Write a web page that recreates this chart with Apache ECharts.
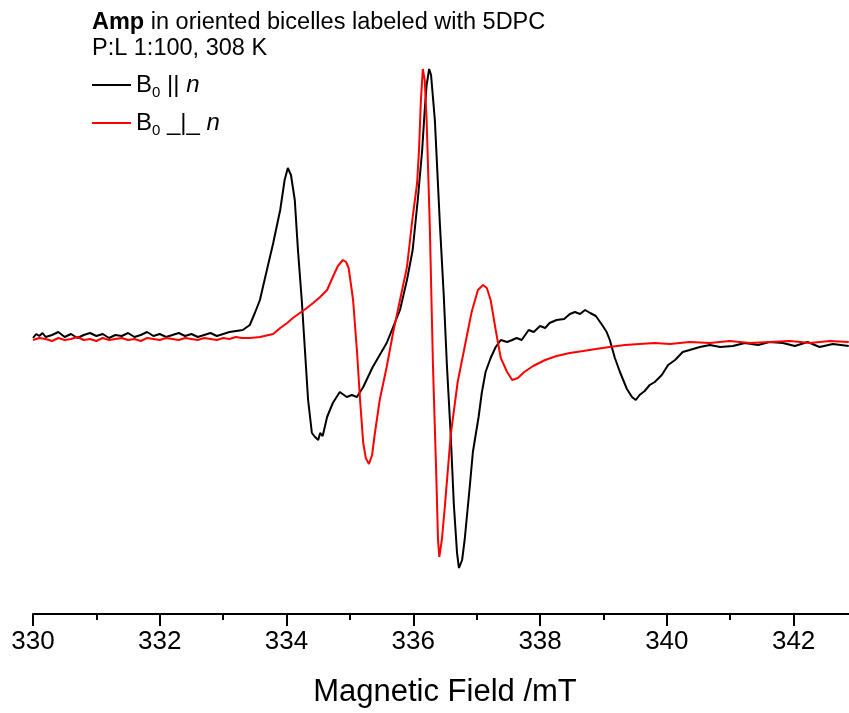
<!DOCTYPE html>
<html>
<head>
<meta charset="utf-8">
<script src="https://cdn.jsdelivr.net/npm/echarts@6/dist/echarts.min.js"></script>
<style>
html,body{margin:0;padding:0;background:#fff;}
#chart{width:849px;height:713px;}
</style>
</head>
<body>
<div id="chart"></div>
<script>
// Magnetic field (mT) and signal (arbitrary units) for B0 || n
const fieldPar = [330.00,330.05,330.10,330.15,330.20,330.30,330.40,330.50,330.60,330.70,330.80,330.90,331.00,331.10,331.20,331.30,331.40,331.50,331.60,331.70,331.80,331.90,332.00,332.10,332.20,332.30,332.40,332.50,332.60,332.70,332.80,332.90,333.00,333.10,
333.31,333.42,333.50,333.58,333.69,333.79,333.90,333.97,334.02,334.07,334.13,334.18,334.24,334.29,334.34,334.40,334.45,334.50,334.53,334.57,334.64,334.73,334.84,334.95,335.03,335.11,335.21,335.36,335.58,335.79,335.90,335.99,336.07,336.14,336.18,336.21,336.25,336.28,336.34,336.42,336.48,336.53,336.59,336.64,336.69,336.72,336.77,336.81,336.89,336.94,337.03,337.08,337.14,337.22,337.30,337.38,337.48,337.56,337.63,337.71,337.82,337.90,338.00,338.08,338.15,338.26,338.38,338.47,338.55,338.63,338.71,338.79,338.88,338.99,339.05,339.10,339.18,339.26,339.37,339.45,339.51,339.57,339.65,339.73,339.81,339.92,340.02,340.13,340.25,340.36,340.52,340.68,340.84,341.04,341.23,341.44,341.62,341.83,342.02,342.22,342.41,342.62,342.87];
const signalPar = [2,6,4,7,3,5,8,3,6,2,5,7,4,6,2,5,4,7,3,5,8,4,6,3,5,7,4,6,3,5,7,4,6,8,
10,15,27,40,70,97,130,160,172,165,140,90,40,-10,-60,-93,-97,-100,-93,-96,-77,-63,-52,-57,-55,-57,-47,-27,-3,30,60,90,140,190,230,255,271,265,220,115,45,-25,-95,-165,-213,-228,-220,-200,-147,-112,-77,-53,-32,-18,-7,0,-2,0,2,0,10,8,14,12,17,20,21,26,28,26,30,27,24,14,8,0,-18,-32,-49,-57,-60,-55,-51,-45,-42,-35,-25,-20,-12,-10,-7,-5,-7,-6,-3,-5,-2,-3,-6,-2,-7,-4,-6];

// Magnetic field (mT) and signal (arbitrary units) for B0 _|_ n
const fieldPerp = [330.0,330.1,330.2,330.3,330.4,330.5,330.6,330.7,330.8,330.9,331.0,331.1,331.2,331.3,331.4,331.5,331.6,331.7,331.8,331.9,332.0,332.1,332.2,332.3,332.4,332.5,332.6,332.7,332.8,332.9,333.0,333.1,333.2,333.3,
333.42,333.58,333.79,333.90,334.01,334.10,334.21,334.32,334.42,334.53,334.64,334.73,334.81,334.89,334.94,334.98,335.05,335.11,335.16,335.21,335.25,335.30,335.35,335.39,335.47,335.58,335.68,335.79,335.90,335.99,336.06,336.09,336.12,336.15,336.18,336.21,336.26,336.31,336.36,336.39,336.41,336.45,336.50,336.59,336.70,336.81,336.92,337.02,337.10,337.16,337.22,337.30,337.38,337.48,337.56,337.65,337.75,337.89,338.08,338.26,338.47,338.68,338.88,339.10,339.34,339.57,339.81,340.05,340.36,340.68,340.99,341.31,341.62,341.94,342.26,342.57,342.87];
const signalPerp = [0,2,1,-1,2,0,1,3,0,1,-1,2,0,1,2,0,1,-1,2,1,0,2,1,0,2,1,0,2,1,0,2,1,3,2,
2,3,6,12,17,22,27,32,37,43,50,63,74,80,78,72,40,-10,-60,-103,-118,-124,-115,-95,-60,-27,7,40,73,123,157,190,240,271,260,220,115,-25,-130,-200,-217,-200,-165,-95,-42,-7,28,50,55,52,40,10,-18,-32,-40,-38,-32,-26,-20,-16,-13,-11,-9,-7,-5,-4,-3,-4,-2,-3,-1,-3,-2,-1,-3,-1,-2];

const seriesNames = ['B0 || n', 'B0 _|_ n'];
const legendLabels = {
  'B0 || n': '{b|B}{s|0}{b| || }{i|n}',
  'B0 _|_ n': '{b|B}{s|0}{b| _|_ }{i|n}'
};
const titleText = '{bold|Amp}{reg| in oriented bicelles labeled with 5DPC}\n{reg|P:L 1:100, 308 K}';
const xLabel = 'Magnetic Field /mT';

const FONT = '"Liberation Sans", Arial, sans-serif';
const richLegend = {
  b: {fontSize: 24, lineHeight: 30, color: '#000', fontFamily: FONT},
  s: {fontSize: 15, lineHeight: 12, verticalAlign: 'bottom', color: '#000', fontFamily: FONT},
  i: {fontSize: 24, lineHeight: 30, fontStyle: 'italic', color: '#000', fontFamily: FONT}
};

const chart = echarts.init(document.getElementById('chart'), null, {renderer: 'canvas'});
const pairs = (xs, ys) => xs.map((x, i) => [x, ys[i]]);

chart.setOption({
  animation: false,
  backgroundColor: '#fff',
  title: {
    text: titleText,
    left: 92, top: 10, padding: 0,
    textStyle: {
      fontFamily: FONT, fontSize: 23.5, lineHeight: 26, color: '#000', fontWeight: 'normal',
      rich: {
        bold: {fontFamily: FONT, fontSize: 23.5, lineHeight: 26, fontWeight: 'bold', color: '#000'},
        reg: {fontFamily: FONT, fontSize: 23.5, lineHeight: 26, color: '#000'}
      }
    }
  },
  legend: [
    {
      data: [seriesNames[0]], left: 92, top: 73, padding: 0, orient: 'vertical',
      icon: 'rect', itemWidth: 39, itemHeight: 2, itemGap: 0,
      formatter: n => legendLabels[n],
      textStyle: {rich: richLegend},
      selectedMode: false
    },
    {
      data: [seriesNames[1]], left: 92, top: 111, padding: 0, orient: 'vertical',
      icon: 'rect', itemWidth: 39, itemHeight: 2, itemGap: 0,
      formatter: n => legendLabels[n],
      textStyle: {rich: richLegend},
      selectedMode: false
    }
  ],
  grid: {left: 33, width: 824, top: 40, bottom: 99, containLabel: false, outerBoundsMode: 'none'},
  xAxis: {
    type: 'value', min: 330, max: 343, interval: 2,
    name: xLabel, nameLocation: 'middle', nameGap: 63,
    nameTextStyle: {fontFamily: FONT, fontSize: 31, color: '#000'},
    axisLine: {onZero: false, lineStyle: {color: '#000', width: 2}},
    axisTick: {show: true, inside: false, length: 12, lineStyle: {color: '#000', width: 2}},
    minorTick: {show: true, splitNumber: 2, length: 6, lineStyle: {color: '#000', width: 2}},
    axisLabel: {fontFamily: FONT, fontSize: 26, color: '#000', margin: 15, showMaxLabel: false},
    splitLine: {show: false}, minorSplitLine: {show: false}
  },
  yAxis: {type: 'value', min: -274, max: 300, show: false, splitLine: {show: false}},
  series: [
    {name: seriesNames[0], type: 'line', data: pairs(fieldPar, signalPar), showSymbol: false, symbol: 'none',
     color: '#000', lineStyle: {color: '#000', width: 2}, z: 2},
    {name: seriesNames[1], type: 'line', data: pairs(fieldPerp, signalPerp), showSymbol: false, symbol: 'none',
     color: '#f00', lineStyle: {color: '#f00', width: 2}, z: 3}
  ]
});
</script>
</body>
</html>
